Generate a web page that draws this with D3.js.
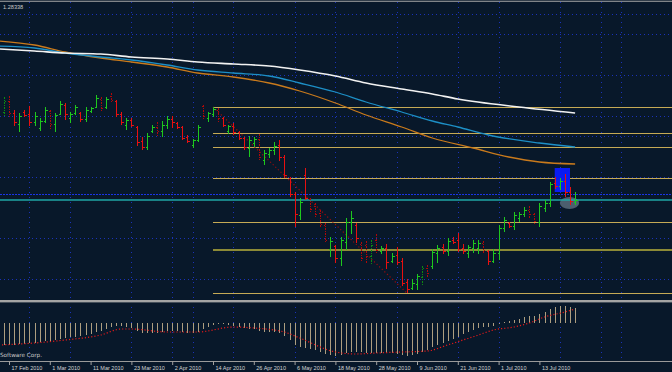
<!DOCTYPE html>
<html><head><meta charset="utf-8">
<script src="https://cdn.jsdelivr.net/npm/d3@7"></script>
<style>html,body{margin:0;padding:0;background:#08182a;overflow:hidden}svg{display:block}</style>
</head><body>
<script>
// ---------- DATA (daily bars from 16 Feb 2010 to 22 Jul 2010) ----------
const firstDay = new Date(2010, 1, 16), lastDay = new Date(2010, 6, 22);
const titleText = "1.28338";
const tickLabels = ["17 Feb 2010","1 Mar 2010","11 Mar 2010","23 Mar 2010","2 Apr 2010","14 Apr 2010","26 Apr 2010","6 May 2010","18 May 2010","28 May 2010","9 Jun 2010","21 Jun 2010","1 Jul 2010","13 Jul 2010"];

const open = [1.3714,1.3824,1.3704,1.3594,1.3714,1.3694,1.3614,1.3554,1.3624,1.3724,
1.3594,1.3694,1.3784,1.3654,1.3704,1.3704,1.3644,1.3724,1.3764,1.3844,
1.3764,1.3874,1.3824,1.3694,1.3584,1.3634,1.3564,1.3424,1.3364,1.3524,
1.3564,1.3524,1.3584,1.3644,1.3604,1.3564,1.3464,1.3384,1.3434,1.3774,
1.3654,1.3694,1.3734,1.3654,1.3524,1.3574,1.3514,1.3454,1.3354,1.3404,
1.3444,1.3234,1.3294,1.3334,1.3384,1.3264,1.3054,1.2894,1.2684,1.3084,
1.2844,1.2774,1.2704,1.2584,1.2344,1.2374,1.2254,1.2414,1.2614,1.2584,
1.2394,1.2384,1.2274,1.2434,1.2324,1.2354,1.2224,1.2284,1.2224,1.2014,
1.1954,1.1994,1.2064,1.2154,1.2174,1.2304,1.2364,1.2324,1.2434,1.2434,
1.2354,1.2304,1.2354,1.2354,1.2404,1.2324,1.2224,1.2304,1.2554,1.2604,
1.2574,1.2654,1.2694,1.2734,1.2694,1.2614,1.2754,1.2804,1.3004,1.2974,
1.3024,1.2914,1.2814];
const high = [1.3864,1.3874,1.3734,1.3704,1.3734,1.3774,1.3714,1.3654,1.3764,1.3734,
1.3704,1.3824,1.3804,1.3714,1.3784,1.3714,1.3764,1.3764,1.3884,1.3864,
1.3864,1.3904,1.3834,1.3714,1.3654,1.3654,1.3574,1.3464,1.3504,1.3584,
1.3614,1.3624,1.3674,1.3674,1.3614,1.3574,1.3484,1.3444,1.3584,1.3784,
1.3714,1.3764,1.3754,1.3664,1.3584,1.3604,1.3524,1.3464,1.3474,1.3464,
1.3494,1.3334,1.3354,1.3414,1.3434,1.3284,1.3064,1.2914,1.2854,1.3154,
1.2854,1.2804,1.2734,1.2604,1.2464,1.2384,1.2464,1.2654,1.2724,1.2604,
1.2414,1.2424,1.2434,1.2494,1.2374,1.2394,1.2304,1.2364,1.2254,1.2044,
1.2044,1.2094,1.2174,1.2184,1.2344,1.2384,1.2394,1.2454,1.2464,1.2504,
1.2394,1.2384,1.2434,1.2434,1.2424,1.2334,1.2344,1.2584,1.2664,1.2614,
1.2714,1.2714,1.2764,1.2774,1.2704,1.2804,1.2834,1.3014,1.3064,1.3054,
1.3094,1.2964,1.2914];
const low = [1.3674,1.3664,1.3574,1.3514,1.3664,1.3574,1.3574,1.3524,1.3604,1.3534,
1.3514,1.3684,1.3634,1.3604,1.3684,1.3614,1.3614,1.3704,1.3754,1.3724,
1.3744,1.3814,1.3664,1.3584,1.3534,1.3564,1.3374,1.3334,1.3334,1.3504,
1.3474,1.3464,1.3544,1.3554,1.3544,1.3434,1.3404,1.3354,1.3414,1.3644,
1.3614,1.3664,1.3604,1.3564,1.3494,1.3484,1.3434,1.3334,1.3264,1.3364,
1.3234,1.3184,1.3254,1.3284,1.3224,1.3054,1.2864,1.2564,1.2634,1.2834,
1.2704,1.2654,1.2564,1.2404,1.2264,1.2204,1.2174,1.2334,1.2494,1.2404,
1.2214,1.2204,1.2184,1.2304,1.2294,1.2144,1.2204,1.2184,1.1974,1.1904,
1.1934,1.1934,1.1984,1.2064,1.2144,1.2204,1.2294,1.2274,1.2394,1.2314,
1.2294,1.2254,1.2304,1.2294,1.2304,1.2184,1.2204,1.2234,1.2514,1.2554,
1.2534,1.2614,1.2664,1.2654,1.2594,1.2564,1.2714,1.2764,1.2944,1.2934,
1.2864,1.2784,1.2784];
const close = [1.3824,1.3704,1.3614,1.3674,1.3684,1.3614,1.3674,1.3624,1.3734,1.3594,
1.3684,1.3794,1.3694,1.3694,1.3764,1.3644,1.3734,1.3754,1.3854,1.3754,
1.3844,1.3834,1.3694,1.3614,1.3634,1.3584,1.3414,1.3364,1.3474,1.3564,
1.3524,1.3584,1.3644,1.3614,1.3564,1.3454,1.3424,1.3434,1.3564,1.3674,
1.3704,1.3744,1.3654,1.3584,1.3574,1.3514,1.3454,1.3364,1.3434,1.3444,
1.3264,1.3304,1.3334,1.3374,1.3264,1.3084,1.2894,1.2694,1.2814,1.2854,
1.2744,1.2694,1.2594,1.2434,1.2424,1.2254,1.2434,1.2614,1.2654,1.2454,
1.2254,1.2274,1.2384,1.2334,1.2354,1.2214,1.2274,1.2214,1.2004,1.1944,
1.2004,1.2074,1.2154,1.2104,1.2314,1.2354,1.2324,1.2424,1.2414,1.2344,
1.2324,1.2364,1.2404,1.2404,1.2334,1.2224,1.2304,1.2554,1.2634,1.2574,
1.2684,1.2694,1.2734,1.2694,1.2624,1.2774,1.2804,1.2994,1.2974,1.3024,
1.2914,1.2824,1.2834];
// bars drawn in the dim (dotted) shade, by bar number (0 = 17 Feb)
const dimBars = [-1,0,8,18,20,29,38,41,49,59,60,61,62,69,70,71,72,81,82,93,102,103];

// moving averages (bar number, price)
const maWhiteIdx = [-2,5,11,18,24,31,37,44,51,57,64,70,77,83,88,100,111];
const maWhite = [1.4344,1.4324,1.4304,1.4294,1.4264,1.4244,1.4214,1.4194,1.4174,1.4134,1.4074,1.4004,1.3944,1.3894,1.3844,1.3764,1.3704];
const maBlueIdx = [-2,5,11,18,24,31,37,44,51,57,64,70,77,83,88,94,104,111];
const maBlue = [1.4374,1.4354,1.4304,1.4264,1.4234,1.4184,1.4134,1.4104,1.4074,1.4004,1.3914,1.3814,1.3714,1.3624,1.3564,1.3484,1.3404,1.3364];
const maOrangeIdx = [-2,5,11,18,24,31,37,44,51,57,64,70,77,83,91,98,104,111];
const maOrange = [1.4424,1.4384,1.4314,1.4254,1.4214,1.4164,1.4104,1.4064,1.4004,1.3924,1.3804,1.3684,1.3564,1.3454,1.3354,1.3264,1.3214,1.3194];

// MACD histogram (one per bar, from 16 Feb) and signal (bar number, value)
const macd = [-0.022,-0.022,-0.022,-0.021,-0.021,
-0.020,-0.020,-0.019,-0.018,-0.018,
-0.017,-0.016,-0.015,-0.014,-0.014,
-0.013,-0.012,-0.011,-0.009,-0.008,
-0.006,-0.004,-0.003,-0.003,-0.004,
-0.005,-0.008,-0.010,-0.010,-0.010,
-0.010,-0.009,-0.008,-0.008,-0.008,
-0.009,-0.010,-0.010,-0.009,-0.006,
-0.004,-0.002,-0.001,-0.001,-0.002,
-0.003,-0.004,-0.005,-0.006,-0.006,
-0.008,-0.009,-0.009,-0.009,-0.010,
-0.013,-0.017,-0.022,-0.024,-0.025,
-0.026,-0.027,-0.029,-0.031,-0.032,
-0.033,-0.032,-0.030,-0.029,-0.029,
-0.029,-0.030,-0.030,-0.030,-0.030,
-0.030,-0.030,-0.031,-0.032,-0.033,
-0.032,-0.031,-0.029,-0.027,-0.024,
-0.022,-0.020,-0.018,-0.016,-0.014,
-0.011,-0.009,-0.007,-0.005,-0.004,
-0.004,-0.003,-0.001,0.001,0.002,
0.003,0.004,0.006,0.007,0.007,
0.009,0.011,0.014,0.016,0.017,
0.017,0.016,0.015];
const signalIdx = [-2,5,11,18,22,24,31,37,44,48,54,57,64,68,72,77,82,86,89,92,95,99,102,105,109,111];
const signal = [-0.022,-0.020,-0.017,-0.012,-0.006,-0.006,-0.009,-0.009,-0.004,-0.005,-0.009,-0.015,-0.029,-0.031,-0.030,-0.029,-0.028,-0.022,-0.017,-0.012,-0.007,-0.004,0.000,0.006,0.011,0.014];

// objects
const fibHigh = {idx: 40, price: 1.3764};
const fibLow = {idx: 78, price: 1.1904};
const fibLevels = [0, 0.236, 0.382, 0.618, 0.786, 0.86, 1];
const bidPrice = 1.28338;
const dashedLinePrice = 1.2894;
const boxRect = {i1: 107, i2: 110, p1: 1.3154, p2: 1.2914};
const boxEllipse = {i1: 108, i2: 111.8, p1: 1.2864, p2: 1.2744};
const gridPrices = [1.4694, 1.4494, 1.4084, 1.3674, 1.3474, 1.3064, 1.2454, 1.2044];
const gridBars = [4, 12, 24, 32, 36, 44, 56, 64, 76, 88, 96, 108, 116, 120];

// ---------- DRAW ----------
const W = 672, H = 372;
const svg = d3.select("body").append("svg").attr("width", W).attr("height", H);
svg.append("rect").attr("width", W).attr("height", H).attr("fill", "#08182a");

const x = d3.scaleLinear().domain([0, 100]).range([9, 519]);
const y = d3.scaleLinear().domain([1.4834, 1.1834]).range([0, 300]);
const ym = d3.scaleLinear().domain([0, -0.033]).range([323, 356]);
const px = v => Math.round(v) + 0.5;

const defs = svg.append("defs");
defs.append("clipPath").attr("id", "cMain").append("rect").attr("x", 0).attr("y", 2).attr("width", W).attr("height", 298);
defs.append("clipPath").attr("id", "cOsc").append("rect").attr("x", 0).attr("y", 303).attr("width", W).attr("height", 58);

const main = svg.append("g").attr("clip-path", "url(#cMain)");
const osc = svg.append("g").attr("clip-path", "url(#cOsc)");

// grid
const gridColor = "#1a32b8";
main.selectAll("line.hg").data(gridPrices).join("line")
  .attr("x1", 0).attr("x2", W).attr("y1", d => px(y(d))).attr("y2", d => px(y(d)))
  .attr("stroke", gridColor).attr("stroke-dasharray", "1,3").attr("shape-rendering", "crispEdges");
[main, osc].forEach(g => g.selectAll("line.vg").data(gridBars).join("line")
  .attr("x1", d => px(x(d))).attr("x2", d => px(x(d))).attr("y1", 2).attr("y2", 361)
  .attr("stroke", gridColor).attr("stroke-dasharray", "1,4").attr("shape-rendering", "crispEdges"));

// fibonacci object
const fibPrice = r => fibLow.price + r * (fibHigh.price - fibLow.price);
main.selectAll("line.fib").data(fibLevels).join("line")
  .attr("x1", x(fibHigh.idx)).attr("x2", W)
  .attr("y1", d => px(y(fibPrice(d)))).attr("y2", d => px(y(fibPrice(d))))
  .attr("stroke", d => d === 0.236 ? "#8c8a36" : "#c6aa55")
  .attr("stroke-width", d => d === 0.236 ? 2 : 1).attr("shape-rendering", "crispEdges");
main.append("line")
  .attr("x1", x(fibHigh.idx)).attr("y1", y(fibHigh.price)).attr("x2", x(fibLow.idx)).attr("y2", y(fibLow.price))
  .attr("stroke", "#9a0c0c").attr("stroke-width", 1.2).attr("stroke-dasharray", "1.2,2.4");

// rectangle and ellipse objects
main.append("rect")
  .attr("x", x(boxRect.i1)).attr("width", x(boxRect.i2) - x(boxRect.i1))
  .attr("y", y(boxRect.p1)).attr("height", y(boxRect.p2) - y(boxRect.p1))
  .attr("fill", "#0a1cf2");
main.append("ellipse")
  .attr("cx", (x(boxEllipse.i1) + x(boxEllipse.i2)) / 2).attr("cy", (y(boxEllipse.p1) + y(boxEllipse.p2)) / 2)
  .attr("rx", (x(boxEllipse.i2) - x(boxEllipse.i1)) / 2).attr("ry", (y(boxEllipse.p2) - y(boxEllipse.p1)) / 2)
  .attr("fill", "#4c5e6e");

// horizontal price lines
main.append("line").attr("x1", 0).attr("x2", W).attr("y1", px(y(dashedLinePrice))).attr("y2", px(y(dashedLinePrice)))
  .attr("stroke", "#1a34e6").attr("stroke-dasharray", "2,1").attr("shape-rendering", "crispEdges");
main.append("line").attr("x1", 0).attr("x2", W).attr("y1", y(bidPrice)).attr("y2", y(bidPrice))
  .attr("stroke", "#1fa6a6").attr("stroke-width", 1.3);

// bars
const bars = open.map((o, k) => ({i: k - 1, o, h: high[k], l: low[k], c: close[k]}));
const barColor = d => {
  const up = d.c >= d.o, dim = dimBars.includes(d.i);
  return up ? (dim ? "#0d8a12" : "#1ec81e") : (dim ? "#b00808" : "#e81010");
};
const gb = main.append("g").selectAll("g").data(bars).join("g")
  .attr("stroke", barColor).attr("shape-rendering", "crispEdges")
  .attr("stroke-dasharray", d => dimBars.includes(d.i) ? "1.5,1" : null);
gb.append("line").attr("x1", d => px(x(d.i))).attr("x2", d => px(x(d.i)))
  .attr("y1", d => y(d.h)).attr("y2", d => y(d.l));
gb.append("line").attr("x1", d => px(x(d.i)) - 2).attr("x2", d => px(x(d.i)))
  .attr("y1", d => px(y(d.o))).attr("y2", d => px(y(d.o))).attr("stroke-dasharray", null);
gb.append("line").attr("x1", d => px(x(d.i))).attr("x2", d => px(x(d.i)) + 2)
  .attr("y1", d => px(y(d.c))).attr("y2", d => px(y(d.c))).attr("stroke-dasharray", null);

// moving averages
const maLine = d3.line().x(d => x(d[0])).y(d => y(d[1])).curve(d3.curveMonotoneX);
[[maOrangeIdx, maOrange, "#c97a1c", 1.3], [maBlueIdx, maBlue, "#1d8fc6", 1.3], [maWhiteIdx, maWhite, "#f2f2f2", 1.6]]
  .forEach(([idx, vals, col, w]) => main.append("path")
    .attr("d", maLine(idx.map((d, k) => [d, vals[k]])))
    .attr("fill", "none").attr("stroke", col).attr("stroke-width", w));

// MACD pane
osc.selectAll("line.hist").data(macd).join("line")
  .attr("x1", (d, k) => px(x(k - 1))).attr("x2", (d, k) => px(x(k - 1)))
  .attr("y1", ym(0)).attr("y2", d => ym(d))
  .attr("stroke", "#ad9e80").attr("stroke-width", 1).attr("shape-rendering", "crispEdges");
osc.append("path")
  .attr("d", d3.line().x(d => x(d[0])).y(d => ym(d[1])).curve(d3.curveMonotoneX)(signalIdx.map((d, k) => [d, signal[k]])))
  .attr("fill", "none").attr("stroke", "#e01a1a").attr("stroke-width", 1.2).attr("stroke-dasharray", "1.2,2");

// frame lines
svg.append("line").attr("x1", 0).attr("x2", W).attr("y1", 1.2).attr("y2", 1.2).attr("stroke", "#a8a8a8").attr("stroke-width", 1.1);
svg.append("rect").attr("x", 0).attr("y", 300).attr("width", W).attr("height", 2.4).attr("fill", "#a4a4a4");
svg.append("line").attr("x1", 0).attr("x2", W).attr("y1", 361.5).attr("y2", 361.5).attr("stroke", "#9a9a9a");

// date axis
const fmt = d3.timeFormat("%-d %b %Y");
const dates = d3.timeDay.range(firstDay, d3.timeDay.offset(lastDay, 1)).filter(d => d.getDay() !== 0 && d.getDay() !== 6);
const tickIdx = tickLabels.map(l => dates.findIndex(d => fmt(d) === l) - 1);
const axis = d3.axisBottom(x).tickValues(tickIdx).tickFormat((d, k) => tickLabels[k]).tickSize(4).tickSizeOuter(0);
const gAx = svg.append("g").attr("transform", "translate(0,361)").call(axis);
gAx.select(".domain").remove();
gAx.selectAll(".tick line").attr("stroke", "#a0a0a0");
gAx.selectAll(".tick text").attr("x", 2).attr("y", 9).attr("dy", 0).attr("text-anchor", "start")
  .attr("fill", "#d4d4d4").style("font-family", "'Liberation Sans', Arial, sans-serif").style("font-size", "5.5px");

// texts
svg.append("text").attr("x", 3).attr("y", 8.5).text(titleText)
  .attr("fill", "#c8c8c8").style("font-family", "'Liberation Sans', Arial, sans-serif").style("font-size", "5.6px");
svg.append("text").attr("x", 42).attr("y", 357).attr("text-anchor", "end").text("Software Corp.")
  .attr("fill", "#c8c8c8").style("font-family", "'DejaVu Sans', sans-serif").style("font-size", "5.7px");
</script>
</body></html>
